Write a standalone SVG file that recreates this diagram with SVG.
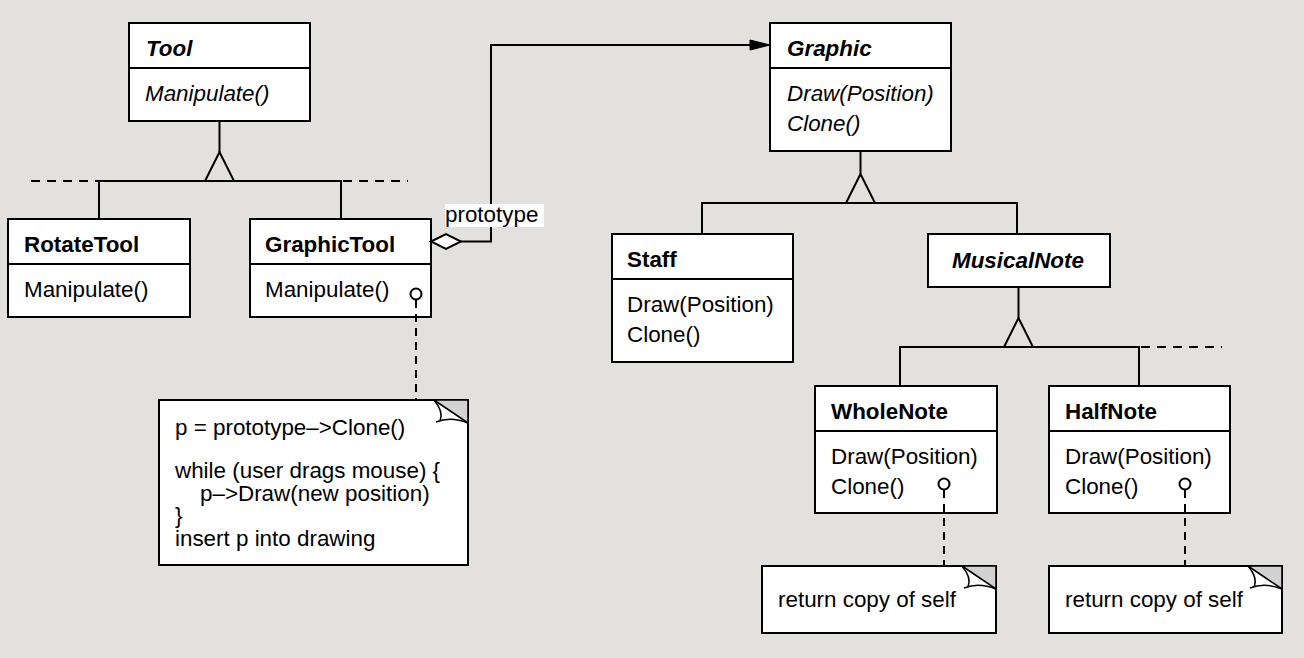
<svg xmlns="http://www.w3.org/2000/svg" xmlns:xlink="http://www.w3.org/1999/xlink" width="1304" height="658" viewBox="0 0 1304 658">
<style>
text{font-family:"Liberation Sans",Arial,Helvetica,sans-serif;font-size:22.4px;fill:#000}
.b{font-weight:bold}
.i{font-style:italic}
.box{fill:#fff;stroke:#000;stroke-width:2}
.ln{fill:none;stroke:#000;stroke-width:2}
.dash{fill:none;stroke:#000;stroke-width:2;stroke-dasharray:9 7}
.vdash{fill:none;stroke:#000;stroke-width:2;stroke-dasharray:8 6}
.tri{fill:#e2e1dd;stroke:#000;stroke-width:2;stroke-linejoin:miter}
.pin{fill:#fff;stroke:#000;stroke-width:2}
</style>
<defs>
<g id="fold">
<polygon points="-34,0 0,0 0,23" fill="#d2d2d2" stroke="#000" stroke-width="1.6"/>
<path d="M-34,0 C-28,7 -25,14 -28,21 M-32,22 C-22,18 -10,19 0,23" fill="none" stroke="#000" stroke-width="1.6"/>
</g>
</defs>
<rect width="1304" height="658" fill="#e2e1dd"/>

<g id="Tool">
<rect class="box" x="129" y="23" width="181" height="98"/>
<line class="ln" x1="129" y1="68" x2="310" y2="68"/>
<text class="b i" x="146" y="56">Tool</text>
<text class="i" x="145" y="101">Manipulate()</text>
</g>

<g id="RotateTool">
<rect class="box" x="8" y="219" width="182" height="98"/>
<line class="ln" x1="8" y1="264" x2="190" y2="264"/>
<text class="b" x="24" y="252">RotateTool</text>
<text x="24" y="297">Manipulate()</text>
</g>

<g id="GraphicTool">
<rect class="box" x="250" y="219" width="181" height="98"/>
<line class="ln" x1="250" y1="264" x2="431" y2="264"/>
<text class="b" x="265" y="252">GraphicTool</text>
<text x="265" y="297">Manipulate()</text>
</g>

<g id="CodeNote">
<rect class="box" x="159" y="400" width="309" height="165"/>
<use xlink:href="#fold" x="468" y="400"/>
<text x="175" y="435">p = prototype–&gt;Clone()</text>
<text x="175" y="478">while (user drags mouse) {</text>
<text x="200" y="501">p–&gt;Draw(new position)</text>
<text x="175" y="523">}</text>
<text x="175" y="546">insert p into drawing</text>
</g>

<g id="Graphic">
<rect class="box" x="770" y="23" width="181" height="128"/>
<line class="ln" x1="770" y1="68" x2="951" y2="68"/>
<text class="b i" x="787" y="56">Graphic</text>
<text class="i" x="787" y="101">Draw(Position)</text>
<text class="i" x="787" y="131">Clone()</text>
</g>

<g id="Staff">
<rect class="box" x="612" y="234" width="181" height="128"/>
<line class="ln" x1="612" y1="279" x2="793" y2="279"/>
<text class="b" x="627" y="267">Staff</text>
<text x="627" y="312">Draw(Position)</text>
<text x="627" y="342">Clone()</text>
</g>

<g id="MusicalNote">
<rect class="box" x="928" y="234" width="182" height="53"/>
<text class="b i" x="952" y="268">MusicalNote</text>
</g>

<g id="WholeNote">
<rect class="box" x="815" y="386" width="182" height="127"/>
<line class="ln" x1="815" y1="431" x2="997" y2="431"/>
<text class="b" x="831" y="419">WholeNote</text>
<text x="831" y="464">Draw(Position)</text>
<text x="831" y="494">Clone()</text>
</g>

<g id="HalfNote">
<rect class="box" x="1049" y="386" width="181" height="127"/>
<line class="ln" x1="1049" y1="431" x2="1230" y2="431"/>
<text class="b" x="1065" y="419">HalfNote</text>
<text x="1065" y="464">Draw(Position)</text>
<text x="1065" y="494">Clone()</text>
</g>

<g id="WholeNoteNote">
<rect class="box" x="762" y="566" width="234" height="67"/>
<use xlink:href="#fold" x="996" y="566"/>
<text x="778" y="607">return copy of self</text>
</g>

<g id="HalfNoteNote">
<rect class="box" x="1049" y="566" width="233" height="67"/>
<use xlink:href="#fold" x="1282" y="566"/>
<text x="1065" y="607">return copy of self</text>
</g>

<g id="connectors">
<!-- Tool inheritance -->
<line class="ln" x1="219.5" y1="121" x2="219.5" y2="152"/>
<polyline class="ln" points="99,219 99,181 341,181 341,219"/>
<line class="dash" x1="31" y1="181" x2="99" y2="181"/>
<line class="dash" x1="343" y1="181" x2="408" y2="181"/>
<polygon class="tri" points="219.5,152 205,181 234,181"/>
<!-- prototype aggregation -->
<polyline class="ln" points="461,241.5 491,241.5 491,45 752,45"/>
<polygon points="750,40 770,45 750,50" fill="#000" stroke="#000" stroke-width="1"/>
<polygon points="431,241.5 446,234 461,241.5 446,249" fill="#fff" stroke="#000" stroke-width="2"/>
<rect x="445" y="204" width="99" height="23" fill="#fff"/>
<text x="445" y="222">prototype</text>
<!-- Graphic inheritance -->
<line class="ln" x1="860.5" y1="151" x2="860.5" y2="174"/>
<polyline class="ln" points="702,234 702,203 1017,203 1017,234"/>
<polygon class="tri" points="860.5,174 846,203 875,203"/>
<!-- MusicalNote inheritance -->
<line class="ln" x1="1018.5" y1="287" x2="1018.5" y2="318"/>
<polyline class="ln" points="900,386 900,347 1139,347 1139,386"/>
<line class="dash" x1="1141" y1="347" x2="1222" y2="347"/>
<polygon class="tri" points="1018.5,318 1004,347 1033,347"/>
<!-- note links -->
<line class="vdash" x1="416" y1="300" x2="416" y2="400"/>
<circle class="pin" cx="416" cy="294" r="5.5"/>
<line class="vdash" x1="944" y1="490" x2="944" y2="566"/>
<circle class="pin" cx="944" cy="484" r="5.5"/>
<line class="vdash" x1="1185" y1="490" x2="1185" y2="566"/>
<circle class="pin" cx="1185" cy="484" r="5.5"/>
</g>
</svg>
